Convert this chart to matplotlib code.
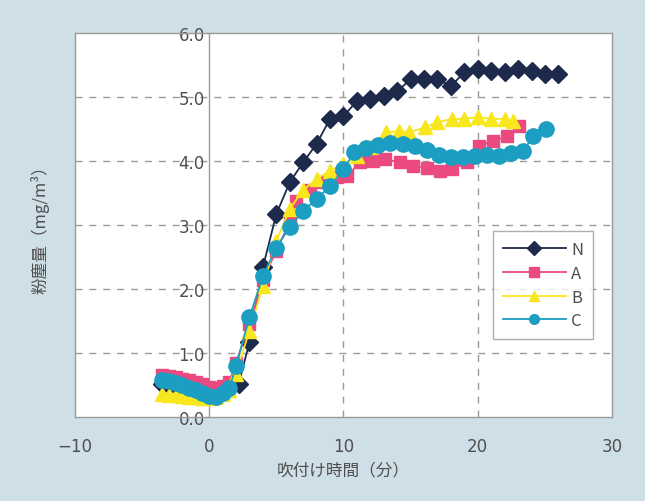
import matplotlib
matplotlib.use("Agg")
import matplotlib.pyplot as plt

plt.rcParams['font.family'] = ['Noto Sans CJK JP', 'DejaVu Sans']

# ---- data ----
pre_t = [-3.5, -3.0, -2.5, -2.0, -1.5, -1.0, -0.5, 0.0, 0.5, 1.0, 1.5]

n_t = pre_t + [2.2, 3, 4, 5, 6, 7, 8, 9, 10, 11, 12, 13, 14, 15, 16, 17, 18, 19, 20,
               21, 22, 23, 24, 25, 26]
n_v = [0.52, 0.50, 0.48, 0.46, 0.44, 0.42, 0.40, 0.37, 0.38, 0.42, 0.46,
       0.52, 1.17, 2.34, 3.17, 3.67, 3.98, 4.27, 4.66, 4.70, 4.94, 4.97, 5.02, 5.09,
       5.28, 5.28, 5.28, 5.17, 5.39, 5.44, 5.41, 5.39, 5.44, 5.41, 5.36, 5.36]

a_t = pre_t + [2, 3, 4, 5, 6, 6.5, 7.5, 8.5, 9.5, 10.3, 11.2, 12.2, 13.1, 14.2, 15.2,
               16.2, 17.2, 18.1, 19.2, 20.1, 21.1, 22.2, 23.1]
a_v = [0.66, 0.64, 0.62, 0.60, 0.58, 0.55, 0.52, 0.47, 0.45, 0.48, 0.55,
       0.85, 1.45, 2.15, 2.60, 3.05, 3.38, 3.55, 3.68, 3.75, 3.77, 3.98, 4.00, 4.03,
       3.98, 3.92, 3.90, 3.85, 3.87, 3.98, 4.24, 4.31, 4.39, 4.55]

b_t = pre_t + [2, 3, 4, 5, 6, 7, 8, 9, 10, 11, 12, 13.2, 14.1, 14.9, 16.1, 17.0,
               18.1, 19.0, 20.0, 21.0, 22.0, 22.6]
b_v = [0.36, 0.35, 0.34, 0.33, 0.32, 0.31, 0.30, 0.30, 0.32, 0.36, 0.42,
       0.68, 1.35, 2.05, 2.75, 3.25, 3.55, 3.72, 3.85, 3.95, 4.08, 4.22, 4.45, 4.47,
       4.45, 4.53, 4.61, 4.66, 4.66, 4.69, 4.66, 4.66, 4.62]

c_t = pre_t + [2, 3, 4, 5, 6, 7, 8, 9, 10, 10.8, 11.7, 12.6, 13.5, 14.4, 15.3, 16.2,
               17.1, 18.0, 18.9, 19.8, 20.7, 21.6, 22.5, 23.4, 24.1, 25.1]
c_v = [0.58, 0.56, 0.53, 0.50, 0.46, 0.42, 0.38, 0.33, 0.32, 0.38, 0.45,
       0.80, 1.56, 2.20, 2.65, 2.97, 3.22, 3.41, 3.61, 3.87, 4.14, 4.20, 4.25, 4.28,
       4.27, 4.24, 4.17, 4.10, 4.06, 4.06, 4.08, 4.10, 4.08, 4.12, 4.16, 4.39, 4.50]

series_names = ['N', 'A', 'B', 'C']
x_ticks = [-10, 0, 10, 20, 30]
x_tick_labels = ['\u221210', '0', '10', '20', '30']
y_ticks = [0, 1, 2, 3, 4, 5, 6]
y_tick_labels = ['0.0', '1.0', '2.0', '3.0', '4.0', '5.0', '6.0']

# ---- styles ----
bg = '#cfdfe8'
txt = '#4f4f4f'
styles = [
    dict(color='#1e2a4c', marker='D', ms=9.5, lw=1.3, mfc='#1e2a4c', mec='#1e2a4c'),
    dict(color='#ea4a7f', marker='s', ms=8.5, lw=1.3, mfc='#ea4a7f', mec='#ea4a7f'),
    dict(color='#f8e71c', marker='^', ms=10, lw=1.3, mfc='#f8e71c', mec='#f8e71c'),
    dict(color='#1b9ec2', marker='o', ms=11, lw=1.3, mfc='#1b9ec2', mec='#1b9ec2'),
]

fig = plt.figure(figsize=(6.45, 5.02), dpi=100, facecolor=bg)
ax = fig.add_axes([0.116, 0.167, 0.833, 0.765])
ax.set_facecolor('white')

ax.set_xlim(-10, 30)
ax.set_ylim(0, 6)

# grid
for yv in [1, 2, 3, 4, 5]:
    ax.axhline(yv, color='#9a9a9a', lw=1.0, ls=(0, (5, 5)), zorder=1)
for xv in [10, 20]:
    ax.axvline(xv, color='#9a9a9a', lw=1.0, ls=(0, (5, 5)), zorder=1)

for sp in ['top', 'right', 'bottom', 'left']:
    ax.spines[sp].set_color('#9a9a9a')
    ax.spines[sp].set_linewidth(1.0)
ax.spines['left'].set_position(('data', 0))
ax.plot([0, 0], [0, 1], transform=ax.transAxes, color='#9a9a9a', lw=1.0,
        clip_on=False, zorder=2)

handles = []
for (t, v), st, name in zip([(n_t, n_v), (a_t, a_v), (b_t, b_v), (c_t, c_v)],
                            styles, series_names):
    ln, = ax.plot(t, v, label=name, zorder=3, **st)
    handles.append(ln)

ax.set_xticks(x_ticks)
ax.set_xticklabels(x_tick_labels)
ax.set_yticks(y_ticks)
ax.set_yticklabels(y_tick_labels)
ax.tick_params(axis='both', length=0, labelsize=12, colors=txt)
ax.tick_params(axis='x', pad=14)
ax.tick_params(axis='y', pad=3)
for lab in ax.get_yticklabels():
    lab.set_family(['DejaVu Sans'])
for lab in ax.get_xticklabels():
    lab.set_family(['DejaVu Sans'])

ax.set_xlabel('吹付け時間（分）', fontsize=12, color=txt, labelpad=5)
fig.text(0.062, 0.55, '粉塵量（mg/m³）', rotation=90, fontsize=12, color=txt,
         ha='center', va='center')

leg = ax.legend(handles=handles, loc='upper left', bbox_to_anchor=(0.778, 0.484),
                borderaxespad=0, frameon=True, fancybox=False, edgecolor='#9a9a9a',
                fontsize=12, handlelength=3.8, labelspacing=0.4, borderpad=0.6,
                handletextpad=0.3, labelcolor=txt)
leg.get_frame().set_linewidth(1.0)
for h in leg.legend_handles:
    h.set_markersize(7)

fig.savefig('out.png', dpi=100, facecolor=bg)
